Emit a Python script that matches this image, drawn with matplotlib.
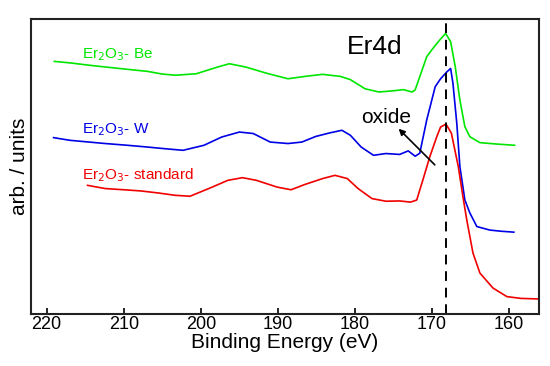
import numpy as np
import matplotlib.pyplot as plt

plt.rcParams['font.family'] = ['Liberation Sans', 'DejaVu Sans']

# Er4d XPS spectra (arbitrary units, 0-100 frame)
be_energy = [219.0, 217.0, 214.5, 212.4, 209.5, 206.9, 205.0, 203.3, 200.6, 197.8, 196.3, 194.2,
             191.5, 188.7, 186.5, 184.2, 181.9, 180.6, 178.7, 176.9, 175.1, 173.7, 172.6, 172.2,
             171.6, 170.7, 169.9, 169.0, 168.25, 167.6, 167.0, 166.4, 165.75, 165.1, 163.8, 161.5, 159.3]
be_counts = [85.7, 85.2, 84.4, 83.8, 83.0, 82.3, 81.4, 81.0, 81.5, 83.8, 84.9, 83.8,
             81.7, 79.8, 80.6, 81.3, 80.6, 79.5, 76.4, 75.3, 75.7, 76.1, 75.3, 76.0,
             80.5, 87.3, 90.1, 93.0, 95.2, 92.4, 83.9, 72.6, 63.5, 60.1, 58.1, 57.6, 57.2]

w_energy = [219.1, 217.0, 214.5, 212.4, 209.5, 206.9, 204.5, 202.3, 199.6, 197.3, 195.0, 193.2,
            191.0, 188.7, 186.9, 185.1, 183.3, 181.7, 180.6, 179.2, 177.6, 176.0, 174.2, 173.1,
            172.2, 171.6, 170.7, 169.6, 168.9, 168.1, 167.6, 167.3, 166.8, 166.4, 165.75, 165.1,
            164.2, 162.5, 161.0, 159.4]
w_counts = [59.8, 58.9, 58.3, 57.8, 57.2, 56.6, 56.0, 55.5, 57.2, 60.0, 61.7, 61.2,
            58.3, 57.8, 58.3, 60.2, 61.4, 62.3, 60.6, 56.6, 53.8, 54.4, 54.1, 55.3,
            53.5, 54.5, 65.8, 77.1, 79.8, 82.1, 83.3, 78.3, 64.7, 50.0, 38.6, 34.2,
            29.6, 28.4, 28.0, 27.7]

std_energy = [214.7, 212.4, 210.0, 207.8, 205.5, 203.3, 201.4, 198.7, 196.5, 194.6, 192.8, 190.1,
              188.3, 186.5, 184.2, 182.6, 181.0, 179.6, 177.8, 176.0, 174.2, 172.8, 172.0, 171.2,
              170.3, 169.4, 168.9, 168.2, 167.5, 166.6, 166.0, 165.5, 164.7, 163.8, 162.1, 160.3,
              158.5, 156.1]
std_counts = [43.6, 42.5, 42.1, 41.7, 41.0, 40.2, 39.9, 42.8, 45.3, 46.2, 45.3, 43.0,
              42.1, 43.9, 45.9, 47.0, 45.9, 42.5, 39.1, 38.2, 38.3, 37.9, 38.6, 45.4,
              53.3, 60.1, 63.4, 64.4, 61.3, 49.9, 39.7, 31.8, 20.6, 13.8, 8.7, 5.8,
              5.2, 5.0]

labels = ['Er$_2$O$_3$- Be', 'Er$_2$O$_3$- W', 'Er$_2$O$_3$- standard']
colors = ['#00e600', '#0000e6', '#f00000']
label_y = [87.9, 62.4, 47.1]
peak_pos = 168.25

fig = plt.figure(figsize=(5.5, 3.66), dpi=100)
ax = fig.add_axes([0.0558, 0.1429, 0.9247, 0.8044])

series = [(be_energy, be_counts), (w_energy, w_counts), (std_energy, std_counts)]
for (e, c), col, lab, ly in zip(series, colors, labels, label_y):
    ax.plot(e, c, color=col, lw=1.2)
    ax.text(215.35, ly, lab, color=col, fontsize=11, va='center', ha='left')

ax.axvline(peak_pos, color='black', lw=1.4, ls=(0, (5, 3.5)))

ax.text(181.05, 90.6, 'Er4d', fontsize=19, va='center', ha='left')
ax.text(179.2, 66.8, 'oxide', fontsize=15, va='center', ha='left')
ax.annotate('', xy=(174.6, 63.5), xytext=(169.4, 49.9),
            arrowprops=dict(arrowstyle='-|>', color='black', lw=1.2, mutation_scale=9))

ax.set_xlim(222.07, 156.1)
ax.set_ylim(0, 100)
ax.set_xticks([220, 210, 200, 190, 180, 170, 160])
ax.set_yticks([])
ax.tick_params(axis='x', direction='in', length=4, width=1.2, labelsize=13, pad=2)
for s in ax.spines.values():
    s.set_linewidth(1.5)
    s.set_color('#222222')

ax.set_xlabel('Binding Energy (eV)', fontsize=15, labelpad=0)
ax.set_ylabel('arb. / units', fontsize=15, labelpad=1)

fig.savefig('out.png', dpi=100)
